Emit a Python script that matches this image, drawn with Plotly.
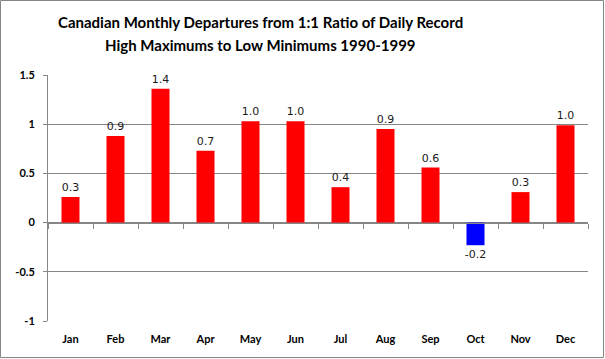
import plotly.graph_objects as go

months = ["Jan", "Feb", "Mar", "Apr", "May", "Jun", "Jul", "Aug", "Sep", "Oct", "Nov", "Dec"]
departures = [0.26, 0.88, 1.36, 0.73, 1.03, 1.03, 0.36, 0.95, 0.56, -0.23, 0.31, 0.99]
y_ticks = [-1, -0.5, 0, 0.5, 1, 1.5]
y_tick_labels = ["-1", "-0.5", "0", "0.5", "1", "1.5"]
title_lines = ["Canadian Monthly Departures from 1:1 Ratio of Daily Record",
               "High Maximums to Low Minimums 1990-1999"]

colors = ["#FF0000" if v >= 0 else "#0000FF" for v in departures]

W, H = 605, 359
ml, mr, mt, mb = 48, 17, 75, 38
pw, ph = W - ml - mr, H - mt - mb

fig = go.Figure()
fig.add_trace(go.Bar(
    x=months, y=departures, marker=dict(color=colors, line=dict(width=0)),
    text=[f"{v:.1f}" for v in departures], textposition="outside",
    textfont=dict(family="DejaVu Sans", size=11, color="#1a1a1a"),
    constraintext="none", cliponaxis=False, hoverinfo="skip",
))
# invisible trace for the zero-line category tick axis
fig.add_trace(go.Bar(x=months, y=[None]*len(months), xaxis="x2", showlegend=False, hoverinfo="skip"))

title_px = [22, 45]
annotations = [dict(
    text=t, xref="paper", yref="paper", x=(260 - ml) / pw, y=(H - mb - py) / ph,
    xanchor="center", yanchor="middle", showarrow=False,
    font=dict(family="Lato", size=15, color="black", weight="bold"),
) for t, py in zip(title_lines, title_px)]

fig.update_layout(
    width=W, height=H, margin=dict(l=ml, r=mr, t=mt, b=mb),
    paper_bgcolor="white", plot_bgcolor="white", showlegend=False,
    bargap=0.6,
    annotations=annotations,
    xaxis=dict(
        type="category", showgrid=False, showline=False, ticks="", zeroline=False,
        tickfont=dict(family="Lato", size=11, color="black", weight="bold"),
        ticklabelstandoff=10,
    ),
    xaxis2=dict(
        type="category", overlaying="x", anchor="free", position=1 / 2.5, side="bottom",
        showline=True, linecolor="#868686", linewidth=1, ticks="outside", ticklen=5,
        tickcolor="#868686", tickson="boundaries", showticklabels=False, showgrid=False,
        matches="x",
    ),
    yaxis=dict(
        range=[-1, 1.5], tickvals=y_ticks, ticktext=y_tick_labels,
        showgrid=True, gridcolor="#868686", gridwidth=1,
        zeroline=False, showline=True, linecolor="#868686", linewidth=1,
        ticks="outside", ticklen=4, tickcolor="#868686",
        tickfont=dict(family="Lato", size=11, color="black", weight="bold"),
        ticklabelstandoff=6,
    ),
    shapes=[dict(
        type="rect", xref="paper", yref="paper",
        x0=-(ml - 0.5) / pw, x1=1 + (mr - 1.5) / pw,
        y0=-(mb - 1.5) / ph, y1=1 + (mt - 0.5) / ph,
        line=dict(color="#868686", width=1), fillcolor="rgba(0,0,0,0)", layer="below",
    )],
)

fig.write_html("out.html", config={"displayModeBar": False},
               post_script="document.body.style.margin='0';document.body.style.overflow='hidden';")
